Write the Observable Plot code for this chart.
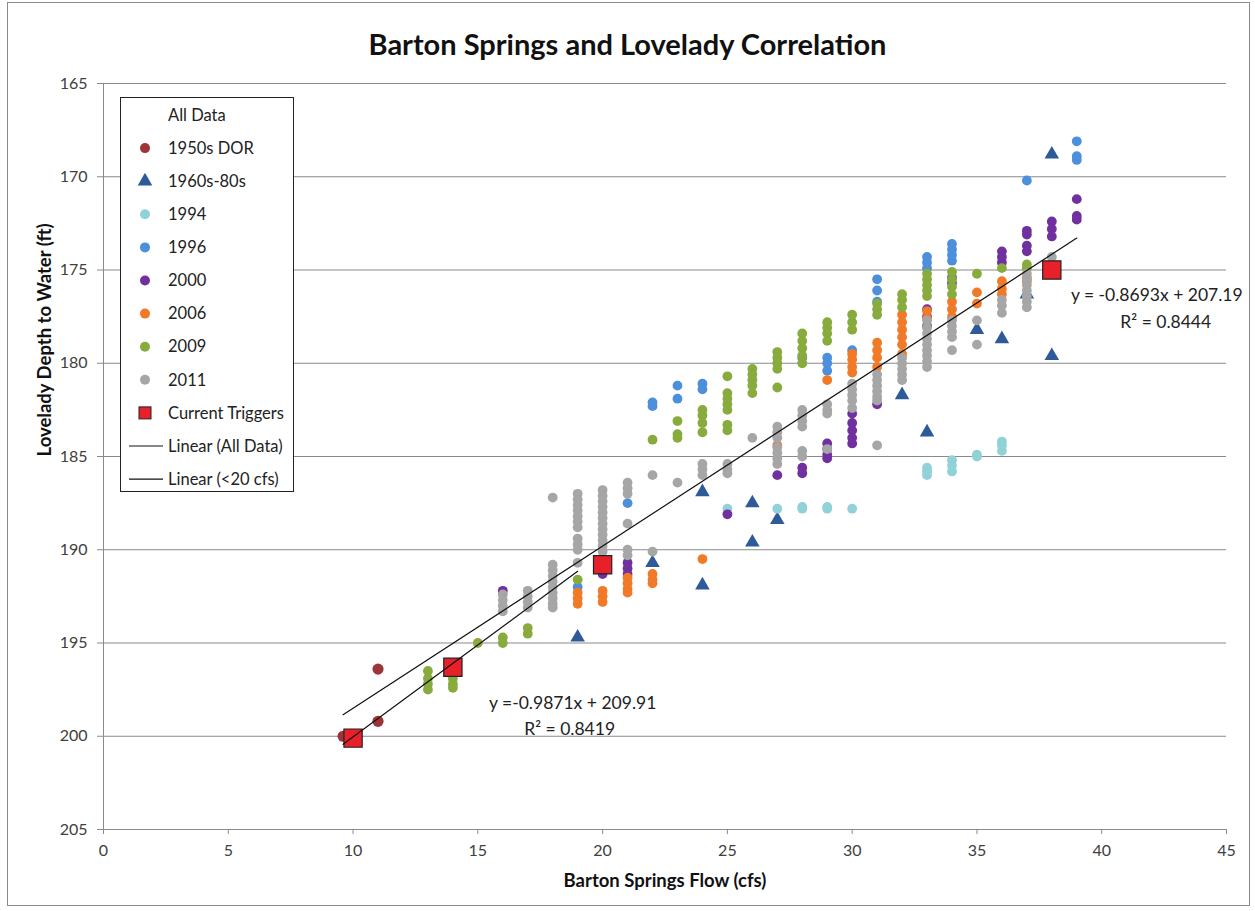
<!DOCTYPE html>
<html>
<head>
<meta charset="utf-8">
<script src="https://cdn.jsdelivr.net/npm/d3@7"></script>
<script src="https://cdn.jsdelivr.net/npm/@observablehq/plot@0.6"></script>
<style>
  body { margin: 0; background: #fff; }
  #chart { position: relative; width: 1255px; height: 911px; background: #fff; font-family: Lato, "Open Sans", sans-serif; }
  #title { height: 68px; box-sizing: border-box; padding-top: 29px; line-height: 30px; text-align: center; font-weight: bold; font-size: 29px; color: #111; }
  #frame { position: absolute; left: 7px; top: 2px; width: 1243px; height: 904px; border: 1px solid #8a8a8a; box-sizing: border-box; pointer-events: none; }
  #legend { position: absolute; left: 120px; top: 97px; }
</style>
</head>
<body>
<div id="chart">
  <div id="title">Barton Springs and Lovelady Correlation</div>
  <div id="plot"></div>
  <div id="legend"></div>
  <div id="frame"></div>
</div>
<script>
// ---------- data ----------
const xTicks = [0, 5, 10, 15, 20, 25, 30, 35, 40, 45];
const yTicks = [165, 170, 175, 180, 185, 190, 195, 200, 205];

const seriesNames = ["1950s DOR", "1960s-80s", "1994", "1996", "2000", "2006", "2009", "2011", "Current Triggers"];
const seriesColors = ["#9c3539", "#2f5a9a", "#90d2d8", "#4c8fda", "#7030a0", "#f07a28", "#88ab3e", "#a6a6a6", "#e8202a"];
const seriesSymbols = ["circle", "triangle", "circle", "circle", "circle", "circle", "circle", "circle", "square"];

const s1950 = [[9.6,200.0],[9.9,200.1],[11,196.4],[11,199.2]];
const s1960 = [[19,194.7],[22,190.7],[24,186.9],[24,191.9],[26,187.5],[26,189.6],[27,188.4],[32,181.7],[33,183.7],[35,178.2],[36,178.7],[37,176.3],[38,168.8],[38,179.6]];
const s1994 = [[25,187.8],[27,187.8],[28,187.8],[28,187.7],[29,187.7],[29,187.8],[30,187.8],[33,185.6],[33,185.8],[33,186.0],[34,185.2],[34,185.5],[34,185.8],[35,184.9],[35,185.0],[36,184.2],[36,184.4],[36,184.7]];
const s1996 = [[19,192.0],[21,187.5],[22,182.1],[22,182.3],[23,181.2],[23,181.9],[24,181.1],[24,181.4],[28,179.7],[29,179.7],[29,180.0],[29,180.4],[30,179.3],[31,175.5],[31,176.1],[31,176.7],[33,174.3],[33,174.6],[33,174.9],[34,173.6],[34,173.9],[34,174.2],[34,174.5],[37,170.2],[39,168.1],[39,168.9],[39,169.1]];
const s2000 = [[16,192.2],[20,191.3],[21,190.7],[21,191.0],[21,191.3],[25,188.1],[27,186.0],[28,185.6],[28,185.9],[29,184.3],[29,184.6],[29,184.9],[29,185.1],[30,182.7],[30,183.2],[30,183.6],[30,184.0],[30,184.3],[31,182.2],[33,177.1],[33,177.5],[33,178.0],[34,175.4],[34,175.7],[36,174.0],[36,174.3],[36,174.6],[37,172.9],[37,173.1],[37,173.7],[37,174.0],[38,172.4],[38,172.8],[38,173.2],[39,171.2],[39,172.1],[39,172.3]];
const s2006 = [[19,192.3],[19,192.6],[19,192.9],[20,192.2],[20,192.5],[20,192.8],[21,191.5],[21,191.8],[21,192.1],[21,192.3],[22,191.3],[22,191.6],[22,191.8],[24,190.5],[27,184.4],[29,180.9],[30,179.5],[30,179.8],[30,180.2],[30,180.5],[31,178.9],[31,179.3],[31,179.7],[31,180.2],[32,177.4],[32,177.8],[32,178.2],[32,178.6],[32,179.0],[32,179.5],[33,177.2],[33,177.6],[34,176.7],[34,177.1],[34,177.5],[35,176.2],[35,176.8],[36,175.6],[36,176.0],[36,176.3],[37,175.4],[37,175.6]];
const s2009 = [[13,196.5],[13,196.9],[13,197.2],[13,197.5],[14,196.9],[14,197.2],[14,197.4],[15,195.0],[16,194.7],[16,195.0],[17,194.2],[17,194.5],[19,191.6],[22,184.1],[23,183.1],[23,183.8],[23,184.0],[24,182.5],[24,182.8],[24,183.2],[24,183.7],[25,180.7],[25,181.6],[25,181.9],[25,182.2],[25,182.5],[25,183.3],[25,183.6],[26,180.3],[26,180.6],[26,180.9],[26,181.2],[26,181.6],[27,179.4],[27,179.7],[27,180.0],[27,180.3],[27,181.3],[28,178.4],[28,178.8],[28,179.2],[28,179.6],[28,180.0],[29,177.8],[29,178.1],[29,178.4],[29,178.8],[30,177.4],[30,177.8],[30,178.2],[31,176.8],[31,177.1],[31,177.4],[32,176.3],[32,176.6],[32,177.0],[33,175.2],[33,175.5],[33,175.8],[33,176.1],[33,176.4],[34,175.1],[34,175.5],[34,175.9],[34,176.3],[35,175.2],[36,174.9],[37,174.7],[37,174.9]];
const s2011 = [[16,192.4],[16,192.7],[16,193.0],[16,193.3],[17,192.2],[17,192.5],[17,192.8],[17,193.1],[18,187.2],[18,190.8],[18,191.1],[18,191.4],[18,191.7],[18,192.0],[18,192.3],[18,192.6],[18,192.9],[18,193.1],[19,187.0],[19,187.3],[19,187.6],[19,187.9],[19,188.2],[19,188.5],[19,188.8],[19,189.4],[19,189.7],[19,190.0],[19,190.7],[20,186.8],[20,187.1],[20,187.4],[20,187.7],[20,188.0],[20,188.3],[20,188.6],[20,188.9],[20,189.2],[20,189.5],[20,189.8],[20,190.1],[21,186.4],[21,186.7],[21,187.0],[21,188.6],[21,190.0],[21,190.3],[22,186.0],[22,190.1],[23,186.4],[24,185.4],[24,185.7],[24,186.0],[25,185.4],[25,185.7],[25,185.9],[26,184.0],[27,183.4],[27,183.7],[27,184.0],[27,184.5],[27,184.8],[27,185.1],[27,185.4],[28,182.5],[28,182.8],[28,183.1],[28,183.4],[28,184.7],[28,185.0],[29,182.2],[29,182.5],[29,182.7],[29,184.6],[30,181.1],[30,181.4],[30,181.7],[30,182.0],[30,182.4],[31,180.6],[31,180.9],[31,181.2],[31,181.5],[31,181.8],[31,182.0],[31,184.4],[32,179.7],[32,180.0],[32,180.3],[32,180.6],[32,180.9],[33,177.7],[33,178.1],[33,178.4],[33,178.7],[33,179.0],[33,179.3],[33,179.6],[33,179.9],[33,180.2],[34,177.7],[34,178.0],[34,178.3],[34,178.6],[34,179.3],[35,177.7],[35,179.0],[36,176.6],[36,176.9],[36,177.3],[37,175.2],[37,175.5],[37,175.8],[37,176.1],[37,176.4],[37,176.7],[37,177.0],[38,174.3]];
const sTriggers = [[10,200.1],[14,196.3],[20,190.8],[38,175.0]];

const seriesData = [s1950, s1960, s1994, s1996, s2000, s2006, s2009, s2011, sTriggers];

// Excel trendlines (from the chart's equations)
const trendAll = {name: "Linear (All Data)", slope: -0.8693, intercept: 207.19, x0: 9.6, x1: 39, eq: "y = -0.8693x + 207.19", r2: "R² = 0.8444"};
const trendLow = {name: "Linear (<20 cfs)", slope: -0.9871, intercept: 209.91, x0: 9.6, x1: 19, eq: "y =-0.9871x + 209.91", r2: "R² = 0.8419"};

// ---------- build ----------
const rows = seriesData.flatMap((arr, i) => arr.map(([x, y]) => ({series: seriesNames[i], x, y})));
const trendPts = t => [t.x0, t.x1].map(x => ({x, y: t.slope * x + t.intercept}));
const endPt = t => [{x: t.x1, y: t.slope * t.x1 + t.intercept, eq: t.eq, r2: t.r2}];

const sizeOf = {circle: 4.9, triangle: 5.4, square: 10.3};
const radius = i => (i === 0 ? 5.6 : sizeOf[seriesSymbols[i]]);

const dotMarks = seriesNames.map((name, i) => Plot.dot(rows.filter(d => d.series === name), {
  x: "x", y: "y",
  symbol: () => seriesSymbols[i],
  r: radius(i),
  fill: seriesColors[i],
  stroke: seriesSymbols[i] === "square" ? "#222" : "none",
  strokeWidth: seriesSymbols[i] === "square" ? 1.2 : 0
}));

const chart = Plot.plot({
  width: 1255,
  height: 843,
  marginLeft: 103,
  marginRight: 29,
  marginTop: 15,
  marginBottom: 82,
  x: {domain: [0, 45]},
  y: {domain: [165, 205], reverse: true},
  symbol: {type: "identity"},
  style: {fontFamily: "Lato, 'Open Sans', sans-serif", fontSize: "16px", color: "#404040", background: "white", overflow: "visible"},
  marks: [
    Plot.ruleY(yTicks.filter(d => d < 205), {stroke: "#8a8a8a", strokeWidth: 1, strokeOpacity: 1}),
    Plot.ruleY([205], {stroke: "#8a8a8a", strokeWidth: 1}),
    Plot.ruleX([0], {stroke: "#8a8a8a", strokeWidth: 1}),
    Plot.axisX({ticks: xTicks, tickSize: 5, tickPadding: 10, label: null, stroke: "#8a8a8a", strokeOpacity: 1, fill: "#404040", fontSize: 16}),
    Plot.axisY({ticks: yTicks, tickSize: 6, tickPadding: 10, label: null, stroke: "#8a8a8a", strokeOpacity: 1, fill: "#404040", fontSize: 16}),
    ...dotMarks,
    Plot.line(trendPts(trendAll), {x: "x", y: "y", stroke: "#111", strokeWidth: 1.2}),
    Plot.line(trendPts(trendLow), {x: "x", y: "y", stroke: "#111", strokeWidth: 1.2}),
    Plot.text(endPt(trendAll), {x: "x", y: "y", text: "eq", dx: 80, dy: 57, fontSize: 17.5, fill: "#222", textAnchor: "middle"}),
    Plot.text(endPt(trendAll), {x: "x", y: "y", text: "r2", dx: 89, dy: 84, fontSize: 17.5, fill: "#222", textAnchor: "middle"}),
    Plot.text(endPt(trendLow), {x: "x", y: "y", text: "eq", dx: -5, dy: 132, fontSize: 17.5, fill: "#222", textAnchor: "middle"}),
    Plot.text(endPt(trendLow), {x: "x", y: "y", text: "r2", dx: -8, dy: 158, fontSize: 17.5, fill: "#222", textAnchor: "middle"}),
    Plot.text(["Barton Springs Flow (cfs)"], {frameAnchor: "bottom", dy: 52, fontWeight: "bold", fontSize: 18.5, fill: "#111", lineAnchor: "middle"}),
    Plot.text(["Lovelady Depth to Water (ft)"], {frameAnchor: "left", dx: -58, rotate: -90, fontWeight: "bold", fontSize: 18.5, fill: "#111", lineAnchor: "middle"})
  ]
});
document.getElementById("plot").appendChild(chart);

// ---------- legend ----------
const legendItems = [{label: "All Data", kind: "none"}]
  .concat(seriesNames.map((n, i) => ({label: n, kind: seriesSymbols[i], color: seriesColors[i]})))
  .concat([{label: trendAll.name, kind: "line"}, {label: trendLow.name, kind: "line"}]);

const lw = 174, lh = 395, step = 33.1, y0 = 18;
const lsvg = d3.select("#legend").append("svg").attr("width", lw).attr("height", lh)
  .style("font-family", "Lato, 'Open Sans', sans-serif").style("font-size", "16.5px");
lsvg.append("rect").attr("x", 0.5).attr("y", 0.5).attr("width", lw - 1).attr("height", lh - 1)
  .attr("fill", "white").attr("stroke", "#222").attr("stroke-width", 1);
legendItems.forEach((it, i) => {
  const cy = y0 + i * step;
  const g = lsvg.append("g");
  const cx = 25;
  if (it.kind === "circle") g.append("circle").attr("cx", cx).attr("cy", cy).attr("r", 5).attr("fill", it.color);
  if (it.kind === "triangle") g.append("path").attr("d", d3.symbol(d3.symbolTriangle, Math.PI * 5.4 * 5.4)()).attr("transform", `translate(${cx},${cy})`).attr("fill", it.color);
  if (it.kind === "square") g.append("rect").attr("x", cx - 6).attr("y", cy - 6).attr("width", 12).attr("height", 12).attr("fill", it.color).attr("stroke", "#222").attr("stroke-width", 1);
  if (it.kind === "line") g.append("line").attr("x1", 9).attr("x2", 43).attr("y1", cy).attr("y2", cy).attr("stroke", "#111").attr("stroke-width", 1.2);
  g.append("text").attr("x", 48).attr("y", cy).attr("dy", "0.35em").attr("fill", "#222").text(it.label);
});
</script>
</body>
</html>
